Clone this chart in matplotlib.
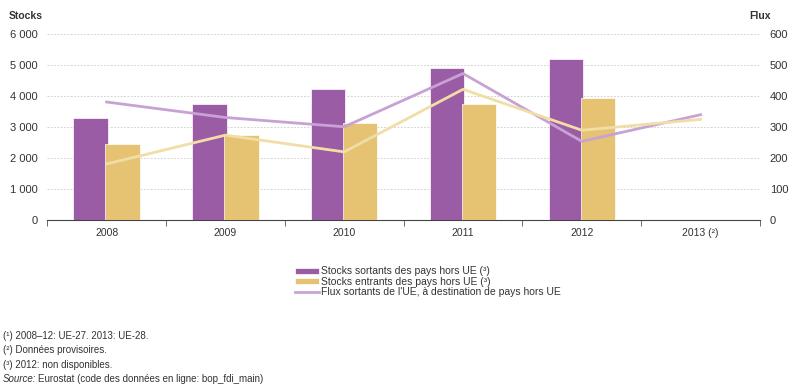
import numpy as np
import matplotlib.pyplot as plt

# ============================================================
# DATA
# ============================================================

years = ["2008", "2009", "2010", "2011", "2012", "2013 (²)"]
stocks_out = [3310, 3730, 4230, 4910, 5190, np.nan]   # left axis
stocks_in = [2470, 2760, 3120, 3730, 3935, np.nan]
flux_out = [381, 331, 301, 473, 254, 340]              # right axis
flux_in = [181, 274, 220, 422, 290, 325]

legend_labels = [
    "Stocks sortants des pays hors UE (³)",
    "Stocks entrants des pays hors UE (³)",
    "Flux sortants de l'UE, à destination de pays hors UE",
]
footnotes = [
    "(¹) 2008–12: UE-27. 2013: UE-28.",
    "(²) Données provisoires.",
    "(³) 2012: non disponibles.",
]

# ============================================================
# STYLE
# ============================================================

plt.rcParams['font.family'] = ['Liberation Sans', 'DejaVu Sans']
purple = '#9b5ca6'
gold = '#e5c372'
purple_line = '#c8a2d4'
gold_line = '#f1dda6'
txt = '#333333'

fig = plt.figure(figsize=(8, 3.84), dpi=100)
ax = fig.add_axes([0.059, 0.427, 0.891, 0.484])
ax2 = ax.twinx()

x = np.arange(len(years))
w = 0.29
b1 = ax.bar(x - 0.135, stocks_out, w, color=purple, edgecolor='white', linewidth=0.5, zorder=2)
b2 = ax.bar(x + 0.135, stocks_in, w, color=gold, edgecolor='white', linewidth=0.5, zorder=3)

l1, = ax2.plot(x, flux_out, color=purple_line, lw=2, zorder=4)
ax2.plot(x, flux_in, color=gold_line, lw=2, zorder=4)

ax.set_xlim(-0.5, len(years) - 0.5)
ax.set_ylim(0, 6000)
ax2.set_ylim(0, 600)
ax.set_yticks(np.arange(0, 6001, 1000))
ax.set_yticklabels([f"{v:,}".replace(",", " ") for v in range(0, 6001, 1000)])
ax2.set_yticks(np.arange(0, 601, 100))

ax.set_xticks(x)
ax.set_xticklabels(years)
ax.set_xticks(np.arange(-0.5, len(years)), minor=True)
ax.tick_params(axis='x', which='major', length=0, labelsize=7.5, colors=txt, pad=6)
ax.tick_params(axis='x', which='minor', length=4, color='#555555')
ax.tick_params(axis='y', length=0, labelsize=8, colors=txt, pad=7)
ax2.tick_params(axis='y', length=0, labelsize=8, colors=txt, pad=7)

ax.yaxis.grid(True, linestyle=(0, (2, 2)), color='#c8c8c8', linewidth=0.6)
ax.set_axisbelow(True)
for a in (ax, ax2):
    for s in ['top', 'left', 'right']:
        a.spines[s].set_visible(False)
    a.spines['bottom'].set_color('#444444')
ax2.spines['bottom'].set_visible(False)

fig.text(0.011, 0.95, "Stocks", fontsize=7.5, fontweight='bold', color=txt)
fig.text(0.937, 0.95, "Flux", fontsize=7.5, fontweight='bold', color=txt)

leg = fig.legend([b1, b2, l1], legend_labels, loc='upper left',
                 bbox_to_anchor=(0.362, 0.32), frameon=False, fontsize=7.5,
                 handlelength=2.3, handleheight=0.5, handletextpad=0.2,
                 labelspacing=0.05, borderpad=0)
for t in leg.get_texts():
    t.set_color(txt)

ys = [0.118, 0.081, 0.042, 0.006]
for y, note in zip(ys, footnotes):
    fig.text(0.004, y, note, fontsize=7, color=txt)
fig.text(0.004, ys[3], "Source:", fontsize=7, color=txt, style='italic')
fig.text(0.048, ys[3], "Eurostat (code des données en ligne: bop_fdi_main)",
         fontsize=7, color=txt)

fig.savefig("out.png", dpi=100)
